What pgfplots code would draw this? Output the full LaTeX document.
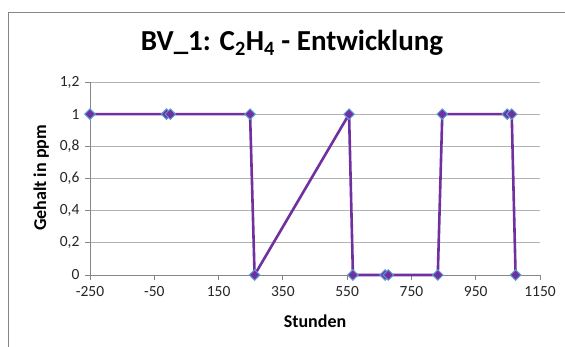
\documentclass[border=0pt]{standalone}
\usepackage{pgfplots}
\pgfplotsset{compat=1.18}
\usepackage{fontspec}
\setmainfont{Carlito}
\definecolor{lineP}{HTML}{7030A0}
\definecolor{markB}{HTML}{5B9BD5}
\definecolor{gridG}{HTML}{B3B3B3}
\definecolor{axG}{HTML}{868686}
\begin{document}
\begin{tikzpicture}
\useasboundingbox (0pt,0pt) rectangle (565pt,347pt);
\fill[white] (0pt,0pt) rectangle (565pt,347pt);
\draw[axG, line width=0.9pt] (8pt,-5pt) -- (8pt,335pt) -- (570pt,335pt);
\node[font=\bfseries\fontsize{29}{33}\selectfont, anchor=base, inner sep=0pt] at (292pt,296pt) {BV\_1: C\textsubscript{2}H\textsubscript{4} - Entwicklung};
\begin{axis}[at={(90pt,72pt)}, anchor=south west, scale only axis, width=450pt, height=193pt,
  xmin=-250, xmax=1150, ymin=0, ymax=1.2,
  xtick={-250,-50,150,350,550,750,950,1150},
  ytick={0,0.2,0.4,0.6,0.8,1,1.2},
  axis lines*=left,
  axis line style={axG, line width=0.8pt},
  tick style={axG, line width=0.8pt},
  tick align=outside, major tick length=5pt,
  ymajorgrids, major grid style={gridG, line width=0.8pt},
  /pgf/number format/assume math mode=true,
  /pgf/number format/use comma,
  /pgf/number format/1000 sep={},
  yticklabel style={/pgf/number format/fixed, xshift=-2pt},
  xticklabel style={yshift=-3pt},
  ticklabel style={font=\fontsize{15.5}{18}\selectfont, text=black!85},
  clip=false,
]
\addplot[color=lineP, line width=2.6pt, mark=square*, mark size=3.7pt,
  mark options={rotate=45, fill=lineP, draw=markB, line width=1pt}]
  coordinates {
  (-250,1) (-12,1) (0,1) (248,1) (262,0) (556,1) (568,0) (668,0) (678,0) (832,0) (846,1) (1048,1) (1062,1) (1074,0)
  };
\end{axis}
\node[font=\bfseries\fontsize{18}{22}\selectfont, anchor=base, inner sep=0pt] at (315pt,19pt) {Stunden};
\node[font=\bfseries\fontsize{18}{22}\selectfont, rotate=90, anchor=base, inner sep=0pt] at (46pt,169pt) {Gehalt in ppm};
\end{tikzpicture}
\end{document}
